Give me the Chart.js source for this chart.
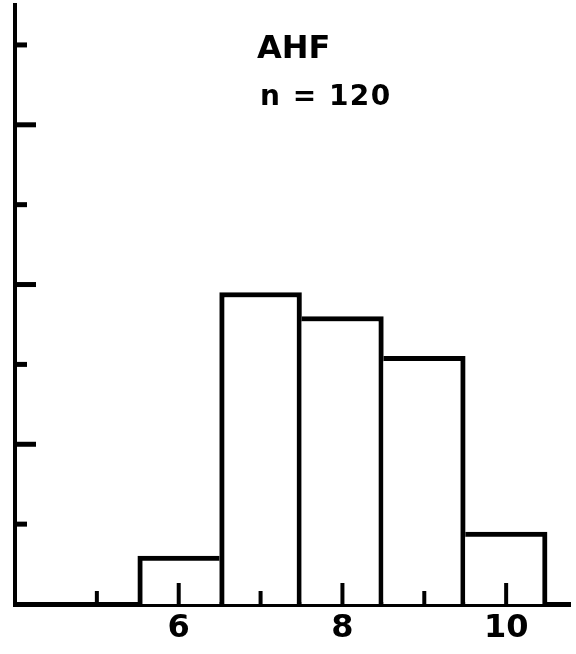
<!DOCTYPE html>
<html>
<head>
<meta charset="utf-8">
<script src="https://cdn.jsdelivr.net/npm/chart.js@4"></script>
<style>
body { margin: 0; background: #fff; }
#wrap { width: 576px; height: 654px; }
</style>
</head>
<body>
<div id="wrap"><canvas id="c"></canvas></div>
<script>
// histogram bins (centre of each bin) and counts
var binCenters = [6, 7, 8, 9, 10];
var counts = [6, 39, 36, 31, 9];
// tick marks along the axes
var xTickValues = [5, 6, 7, 8, 9, 10];
var xMajorValues = [6, 8, 10];
var xLabelValues = [6, 8, 10];
var yTickValues = [10, 20, 30, 40, 50, 60, 70];
var yMajorValues = [20, 40, 60];
var titleText = 'AHF';
var sampleText = 'n = 120';

var FONT = '"DejaVu Sans", "Liberation Sans", sans-serif';

var decorations = {
	id: 'decorations',
	afterDatasetsDraw: function(chart) {
		var ctx = chart.ctx;
		var xs = chart.scales.x, ys = chart.scales.y, area = chart.chartArea;
		ctx.save();
		ctx.strokeStyle = '#000';
		ctx.lineCap = 'butt';

		// y ticks, pointing into the plot
		ctx.lineWidth = 5;
		yTickValues.forEach(function(v) {
			var py = ys.getPixelForValue(v);
			var len = yMajorValues.indexOf(v) >= 0 ? 21 : 12;
			ctx.beginPath();
			ctx.moveTo(area.left, py);
			ctx.lineTo(area.left + len, py);
			ctx.stroke();
		});

		// x ticks, pointing up
		ctx.lineWidth = 4;
		xTickValues.forEach(function(v) {
			var px = xs.getPixelForValue(v);
			var len = xMajorValues.indexOf(v) >= 0 ? 21 : 13;
			ctx.beginPath();
			ctx.moveTo(px, area.bottom);
			ctx.lineTo(px, area.bottom - len);
			ctx.stroke();
		});

		// labels in the upper part of the plot
		ctx.fillStyle = '#000';
		ctx.textBaseline = 'alphabetic';
		ctx.textAlign = 'left';
		ctx.font = 'bold 32px ' + FONT;
		ctx.fillText(titleText, 257, 58);
		ctx.font = 'bold 28px ' + FONT;
		ctx.letterSpacing = '1.5px';
		ctx.fillText(sampleText, 260, 105);
		ctx.restore();
	}
};

var barData = [];
for (var i = 0; i < binCenters.length; i++) {
	barData.push({ x: binCenters[i], y: counts[i] });
}

var ctx = document.getElementById('c').getContext('2d');
window.myHist = new Chart(ctx, {
	type: 'bar',
	data: {
		datasets: [{
			data: barData,
			backgroundColor: '#fff',
			borderColor: '#000',
			borderSkipped: 'start',
			// draw shared edges only once, on the taller bar
			borderWidth: function(c) {
				var i = c.dataIndex;
				if (i === undefined) return 5;
				var v = counts[i];
				var prev = i > 0 ? counts[i - 1] : -1;
				var next = i < counts.length - 1 ? counts[i + 1] : -1;
				return { top: 5, bottom: 0, left: v >= prev ? 5 : 0, right: v > next ? 5 : 0 };
			},
			barPercentage: 1,
			categoryPercentage: 1
		}]
	},
	options: {
		responsive: true,
		maintainAspectRatio: false,
		animation: false,
		layout: { padding: { left: 15, top: 5, right: 6, bottom: 0 } },
		plugins: {
			legend: { display: false },
			tooltip: { enabled: false }
		},
		scales: {
			x: {
				type: 'linear',
				offset: false,
				min: 4,
				max: 10.78,
				afterBuildTicks: function(scale) {
					scale.ticks = xLabelValues.map(function(v) { return { value: v }; });
				},
				ticks: {
					color: '#000',
					font: { family: FONT, size: 32, weight: 'bold', lineHeight: 1 },
					padding: 9,
					maxRotation: 0,
					autoSkip: false
				},
				grid: { display: false, drawTicks: false, offset: false },
				border: { display: true, color: '#000', width: 5 }
			},
			y: {
				min: 0,
				max: 75,
				ticks: { display: false },
				grid: { display: false, drawTicks: false },
				border: { display: true, color: '#000', width: 4 }
			}
		}
	},
	plugins: [decorations]
});
</script>
</body>
</html>
